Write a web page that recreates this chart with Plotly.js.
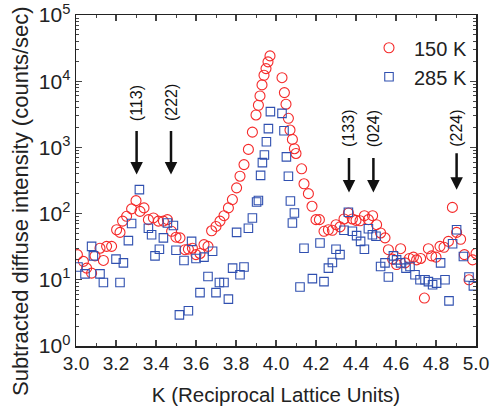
<!DOCTYPE html>
<html>
<head>
<meta charset="utf-8">
<script src="https://cdn.plot.ly/plotly-3.0.1.min.js"></script>
<style>body{margin:0;padding:0;background:#fff}#chart{width:492px;height:414px}</style>
</head>
<body>
<div id="chart"></div>
<script>
// 150 K (red circles)
const k150 = [3.007,3.037,3.053,3.078,3.095,3.12,3.137,3.153,3.178,3.203,3.22,3.233,3.253,3.278,3.30,3.32,3.34,3.362,3.387,3.412,3.437,3.457,3.478,3.50,3.52,3.545,3.562,3.582,3.60,3.62,3.64,3.66,3.678,3.70,3.72,3.74,3.762,3.782,3.803,3.82,3.84,3.862,3.882,3.90,3.912,3.92,3.93,3.94,3.95,3.96,3.97,4.03,4.042,4.05,4.062,4.07,4.082,4.092,4.10,4.128,4.14,4.162,4.18,4.20,4.217,4.24,4.262,4.282,4.30,4.32,4.34,4.362,4.382,4.40,4.42,4.442,4.462,4.483,4.503,4.523,4.545,4.562,4.583,4.603,4.623,4.645,4.667,4.687,4.703,4.723,4.742,4.762,4.778,4.80,4.82,4.84,4.862,4.882,4.903,4.923,4.942,4.965,4.983,5.0];
const i150 = [24,19,15,12.6,23,30,19.6,32,32,57,52,77,91,118,157,108,122,81,86,77,77,81,54,44,43,28.5,29,30,24,25,34,32,55,64,77,93,122,163,245,367,550,933,1700,3090,4330,5990,8790,12300,15500,19600,24100,11300,6730,4490,2750,1830,1320,955,810,475,282,200,129,81,81,54,57,56,68,63,83,102,83,79,78,93,81,93,68,51,43,28.5,20.5,17,29.5,18,21,22,20,21,5.3,29.5,23,22,32,31,38,124,52,41,24,10,20,25];
// 285 K (blue squares)
const k285 = [3.01,3.045,3.078,3.087,3.12,3.137,3.20,3.22,3.237,3.262,3.278,3.317,3.362,3.378,3.395,3.417,3.437,3.457,3.487,3.50,3.517,3.54,3.562,3.578,3.60,3.62,3.64,3.66,3.683,3.70,3.717,3.74,3.762,3.783,3.803,3.82,3.84,3.862,3.882,3.903,3.912,3.923,3.932,3.942,3.952,3.962,3.972,4.03,4.04,4.052,4.062,4.072,4.082,4.092,4.12,4.14,4.182,4.22,4.24,4.262,4.282,4.30,4.32,4.34,4.362,4.382,4.403,4.423,4.442,4.462,4.482,4.50,4.523,4.545,4.562,4.587,4.603,4.623,4.65,4.67,4.695,4.72,4.745,4.762,4.783,4.803,4.823,4.845,4.865,4.883,4.903,4.937,4.965,4.987];
const i285 = [15.6,12.3,32,23,12.3,9.1,20.5,9.1,18,39,71,230,60,48,23,29,43,72,66,28,2.95,19.6,3.4,38,21,6.4,22,11.2,27,6.4,9.1,9.1,5.1,15,52,11.9,15.6,60,86,150,158,378,588,766,1220,1920,3470,3270,1780,720,367,155,72,102,7.8,30,10.4,36,9.4,15,18.3,29,24,56,105,54,46.5,38,29,59,48,45.5,15.9,18,11,23,20,18,15,15.9,11.9,10,10,9.4,8.4,8.9,18,10,4.8,35,57,22.5,11,8.1];
// Y tick labels
const yTickVals = [1,10,100,1000,10000,100000];
const yTickText = ['10<sup>0</sup>','10<sup>1</sup>','10<sup>2</sup>','10<sup>3</sup>','10<sup>4</sup>','10<sup>5</sup>'];
// Reflection markers
const peakLabels = ['(113)','(222)','(133)','(024)','(224)'];
const peakK = [3.303,3.475,4.365,4.487,4.903];
const peakTipLog = [2.59,2.59,2.32,2.32,2.36];
const peakLabelLog = [3.36,3.36,2.97,2.97,2.98];
const arrowLen = [45,45,36,36,38];
const yTitle = 'Subtracted diffuse intensity (counts/sec)';

const ANN_FONT = 'Liberation Sans, Arial, sans-serif';
const annotations = [];
peakLabels.forEach((lab,i)=>{
  annotations.push({x:peakK[i], y:peakTipLog[i], xref:'x', yref:'y', text:'', showarrow:true,
    arrowhead:2, arrowsize:1, arrowwidth:2.5, arrowcolor:'#111', ax:0, ay:-arrowLen[i], standoff:0});
  annotations.push({x:peakK[i], y:peakLabelLog[i], xref:'x', yref:'y', text:lab, showarrow:false,
    textangle:-90, yanchor:'bottom', xanchor:'center', font:{family:ANN_FONT, size:16, color:'#111'}});
});
// y-axis title (placed like the reference, slightly below plot centre)
annotations.push({x:-0.14, y:0.438, xref:'paper', yref:'paper', text:yTitle, showarrow:false,
  textangle:-90, xanchor:'center', yanchor:'middle', font:{family:ANN_FONT, size:22, color:'#222'}});

const traces = [
  {x:k150, y:i150, type:'scatter', mode:'markers', name:'150 K',
   marker:{symbol:'circle-open', size:10, color:'#f52a2a', line:{width:1.1, color:'#f52a2a'}}},
  {x:k285, y:i285, type:'scatter', mode:'markers', name:'285 K',
   marker:{symbol:'square-open', size:8.5, color:'#3050b0', line:{width:1.1, color:'#3050b0'}}}
];

const layout = {
  width:492, height:414,
  margin:{l:76, r:16, t:15, b:68},
  paper_bgcolor:'#fff', plot_bgcolor:'#fff',
  font:{family:'Liberation Sans, Arial, sans-serif', color:'#222'},
  showlegend:true,
  legend:{x:0.72, y:0.96, xanchor:'left', yanchor:'top', bgcolor:'rgba(0,0,0,0)',
    font:{size:20, color:'#222'}, itemwidth:40, tracegroupgap:0},
  xaxis:{range:[3,5], dtick:0.2, tick0:3, tickformat:'.1f', ticks:'inside', ticklen:6, tickwidth:1.2,
    showline:true, linewidth:1.5, linecolor:'#222', mirror:'allticks', showgrid:false, zeroline:false,
    tickfont:{size:19, family:'Liberation Sans Narrow, Arial Narrow, Liberation Sans, sans-serif'},
    minor:{dtick:0.1, ticks:'inside', ticklen:3, tickwidth:1},
    title:{text:'K (Reciprocal Lattice Units)', font:{size:20.5}, standoff:14}},
  yaxis:{type:'log', range:[0,5], tickmode:'array', tickvals:yTickVals, ticktext:yTickText,
    ticks:'inside', ticklen:6, tickwidth:1.2,
    showline:true, linewidth:1.5, linecolor:'#222', mirror:'allticks', showgrid:false, zeroline:false,
    tickfont:{size:21},
    minor:{dtick:'D1', ticks:'inside', ticklen:3, tickwidth:1}},
  annotations:annotations
};

Plotly.newPlot('chart', traces, layout, {displayModeBar:false, staticPlot:true});
</script>
</body>
</html>
